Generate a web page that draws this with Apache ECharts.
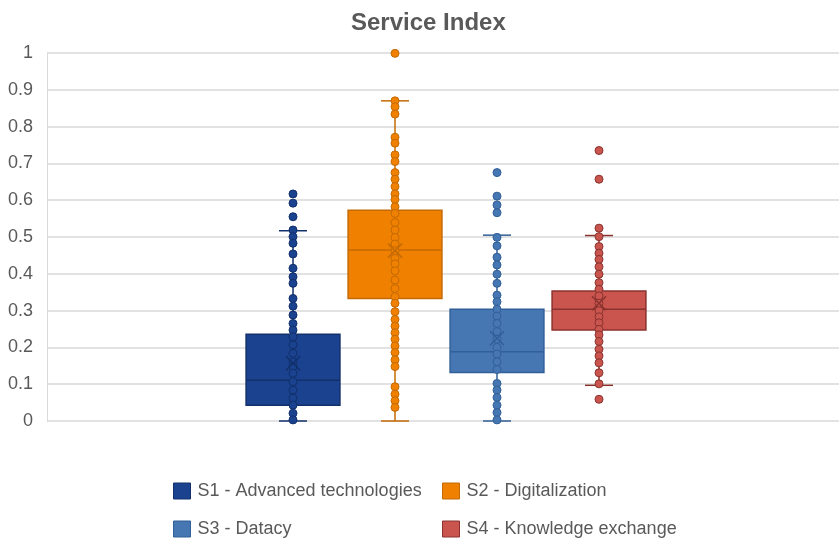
<!DOCTYPE html>
<html>
<head>
<meta charset="utf-8">
<script src="https://cdn.jsdelivr.net/npm/echarts@6/dist/echarts.min.js"></script>
<style>html,body{margin:0;padding:0;background:#fff}#c{width:839px;height:541px}</style>
</head>
<body>
<div id="c"></div>
<script>
// ---- data ----
const seriesNames = ['S1 - Advanced technologies', 'S2 - Digitalization', 'S3 - Datacy', 'S4 - Knowledge exchange'];
const yTicks = [0, 0.1, 0.2, 0.3, 0.4, 0.5, 0.6, 0.7, 0.8, 0.9, 1];
// box stats: [whiskerMin, Q1, median, Q3, whiskerMax, mean]
const s1Stats = [0, 0.043, 0.111, 0.236, 0.517, 0.157];
const s2Stats = [0, 0.333, 0.465, 0.573, 0.870, 0.463];
const s3Stats = [0, 0.132, 0.188, 0.304, 0.505, 0.225];
const s4Stats = [0.097, 0.247, 0.304, 0.353, 0.504, 0.320];
const s1Points = [0.617, 0.592, 0.555, 0.519, 0.501, 0.483, 0.454, 0.415, 0.392, 0.374, 0.333, 0.312, 0.288, 0.265, 0.247, 0.229, 0.207, 0.184, 0.161, 0.148, 0.130, 0.107, 0.084, 0.062, 0.043, 0.021, 0.003];
const s2Points = [0.999, 0.870, 0.854, 0.834, 0.771, 0.755, 0.723, 0.705, 0.675, 0.657, 0.637, 0.617, 0.602, 0.582, 0.564, 0.539, 0.519, 0.499, 0.481, 0.463, 0.442, 0.427, 0.408, 0.383, 0.360, 0.338, 0.320, 0.297, 0.276, 0.258, 0.240, 0.222, 0.204, 0.186, 0.166, 0.148, 0.093, 0.073, 0.055, 0.037];
const s3Points = [0.675, 0.611, 0.587, 0.566, 0.499, 0.476, 0.445, 0.424, 0.399, 0.374, 0.342, 0.324, 0.304, 0.285, 0.265, 0.243, 0.222, 0.200, 0.182, 0.161, 0.140, 0.102, 0.084, 0.064, 0.043, 0.023, 0.003];
const s4Points = [0.735, 0.657, 0.524, 0.501, 0.474, 0.456, 0.439, 0.419, 0.399, 0.376, 0.358, 0.340, 0.320, 0.300, 0.283, 0.267, 0.249, 0.234, 0.216, 0.195, 0.177, 0.158, 0.131, 0.101, 0.059];

// ---- styles ----
const fills = ['#1A428F', '#EF8000', '#4677B3', '#C9554E'];
const strokes = ['#12306B', '#C46A05', '#315F98', '#8A322E'];
const allStats = [s1Stats, s2Stats, s3Stats, s4Stats];
const allPoints = [s1Points, s2Points, s3Points, s4Points];
const FONT = 'Liberation Sans, Arial, sans-serif';

function boxRender(idx) {
  return function (params, api) {
    const x = api.value(0);
    const mn = api.coord([x, api.value(1)]);
    const q1 = api.coord([x, api.value(2)]);
    const md = api.coord([x, api.value(3)]);
    const q3 = api.coord([x, api.value(4)]);
    const mx = api.coord([x, api.value(5)]);
    const hw = api.size([0.92, 0])[0] / 2;
    const cap = 14;
    const ls = { stroke: strokes[idx], lineWidth: 1.5 };
    return {
      type: 'group',
      children: [
        { type: 'line', shape: { x1: mx[0], y1: mx[1], x2: q3[0], y2: q3[1] }, style: ls },
        { type: 'line', shape: { x1: mn[0], y1: mn[1], x2: q1[0], y2: q1[1] }, style: ls },
        { type: 'line', shape: { x1: mx[0] - cap, y1: mx[1], x2: mx[0] + cap, y2: mx[1] }, style: ls },
        { type: 'line', shape: { x1: mn[0] - cap, y1: mn[1], x2: mn[0] + cap, y2: mn[1] }, style: ls },
        { type: 'rect', shape: { x: q3[0] - hw, y: q3[1], width: hw * 2, height: q1[1] - q3[1] },
          style: { fill: fills[idx], stroke: strokes[idx], lineWidth: 1.5 } },
        { type: 'line', shape: { x1: md[0] - hw, y1: md[1], x2: md[0] + hw, y2: md[1] }, style: ls }
      ]
    };
  };
}
function meanRender(idx) {
  return function (params, api) {
    const p = api.coord([api.value(0), api.value(1)]);
    const r = 7;
    const ls = { stroke: strokes[idx], lineWidth: 1.5 };
    return {
      type: 'group',
      children: [
        { type: 'line', shape: { x1: p[0] - r, y1: p[1] - r, x2: p[0] + r, y2: p[1] + r }, style: ls },
        { type: 'line', shape: { x1: p[0] - r, y1: p[1] + r, x2: p[0] + r, y2: p[1] - r }, style: ls }
      ]
    };
  };
}

const series = [];
seriesNames.forEach(function (name, i) {
  const st = allStats[i];
  const xPos = i + 1;
  series.push({
    name: name, type: 'custom', z: 2,
    itemStyle: { color: fills[i], borderColor: strokes[i] },
    renderItem: boxRender(i),
    encode: { x: 0, y: [1, 2, 3, 4, 5] },
    data: [[xPos, st[0], st[1], st[2], st[3], st[4]]]
  });
  series.push({
    name: name, type: 'scatter', z: 3, symbol: 'circle', symbolSize: 8,
    itemStyle: { color: fills[i], borderColor: strokes[i], borderWidth: 1, opacity: 1 },
    data: allPoints[i].map(function (v) { return [xPos, v]; })
  });
  series.push({
    name: name, type: 'custom', z: 4,
    itemStyle: { color: fills[i] },
    renderItem: meanRender(i),
    data: [[xPos, st[5]]]
  });
});

const legendPos = [[168, 477], [437, 477], [168, 515], [437, 515]];
const legends = seriesNames.map(function (name, i) {
  return {
    left: legendPos[i][0], top: legendPos[i][1], itemWidth: 17, itemHeight: 16,
    selectedMode: false,
    textStyle: { color: '#595959', fontSize: 18, fontFamily: FONT, padding: [0, 0, 0, 2] },
    data: [{ name: name, icon: 'rect', itemStyle: { color: fills[i], borderColor: strokes[i], borderWidth: 1 } }]
  };
});

const chart = echarts.init(document.getElementById('c'));
chart.setOption({
  animation: false,
  backgroundColor: '#fff',
  title: {
    text: 'Service Index', left: 346, top: 6,
    textStyle: { color: '#595959', fontSize: 24, fontWeight: 'bold', fontFamily: FONT }
  },
  legend: legends,
  grid: { left: 47, right: 0, top: 53, bottom: 120 },
  xAxis: {
    type: 'value', min: -1.412, max: 6.353,
    show: false, splitLine: { show: false }
  },
  yAxis: {
    type: 'value', min: 0, max: 1, interval: 0.1,
    axisLine: { show: true, onZero: false, lineStyle: { color: '#d9d9d9', width: 1 } },
    axisTick: { show: false },
    splitLine: { lineStyle: { color: '#d9d9d9', width: 1.5 } },
    axisLabel: {
      color: '#595959', fontSize: 18, margin: 14, fontFamily: FONT,
      formatter: function (v) { const t = yTicks.find(function (k) { return Math.abs(k - v) < 1e-9; }); return String(t !== undefined ? t : +v.toFixed(1)); }
    }
  },
  series: series
});
</script>
</body>
</html>
